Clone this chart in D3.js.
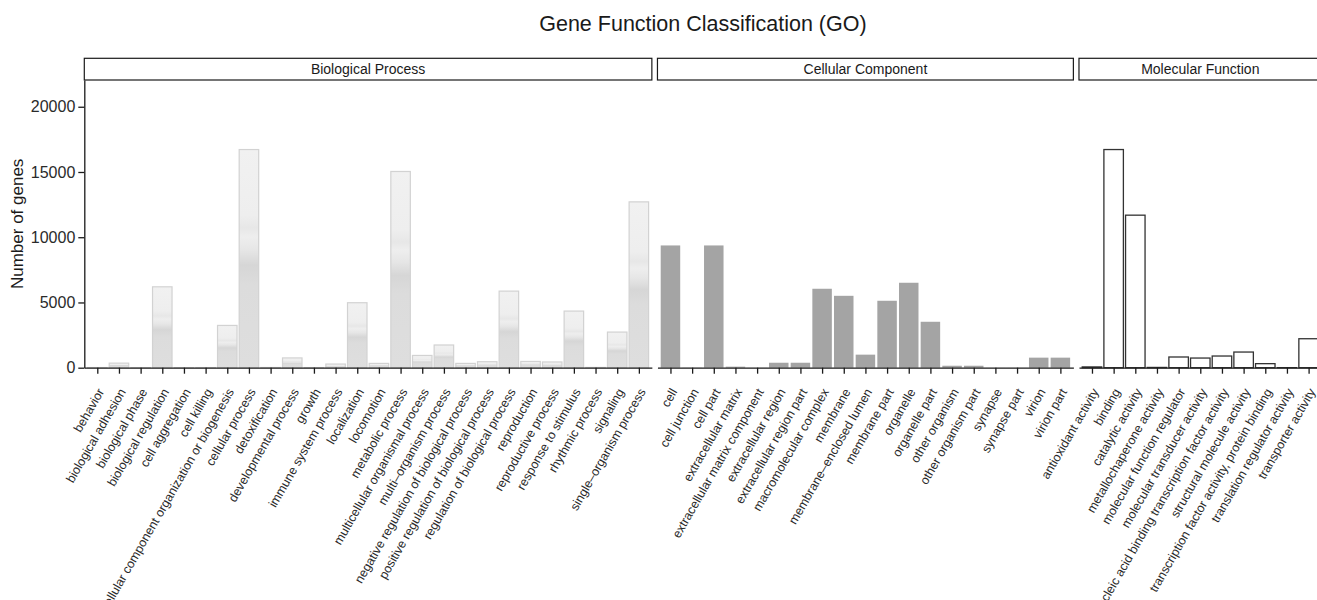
<!DOCTYPE html>
<html>
<head>
<meta charset="utf-8">
<script src="https://cdn.jsdelivr.net/npm/d3@7"></script>
<style>
  html, body { margin: 0; padding: 0; background: #fff; }
  svg { display: block; font-family: "Liberation Sans", Arial, Helvetica, sans-serif; }
</style>
</head>
<body>
<script>
// GO term counts per ontology
const facetNames = ["Biological Process", "Cellular Component", "Molecular Function"];

const bpCategories = [
  "behavior", "biological adhesion", "biological phase", "biological regulation",
  "cell aggregation", "cell killing", "cellular component organization or biogenesis",
  "cellular process", "detoxification", "developmental process", "growth",
  "immune system process", "localization", "locomotion", "metabolic process",
  "multicellular organismal process", "multi\u2013organism process",
  "negative regulation of biological process", "positive regulation of biological process",
  "regulation of biological process", "reproduction", "reproductive process",
  "response to stimulus", "rhythmic process", "signaling", "single\u2013organism process"
];
const bpValues = [
  12, 350, 8, 6200, 4, 10, 3240, 16720, 15, 750, 10,
  280, 4980, 330, 15040, 940, 1740,
  330, 460, 5870, 480, 440, 4340, 20, 2730, 12710
];

const ccCategories = [
  "cell", "cell junction", "cell part", "extracellular matrix",
  "extracellular matrix component", "extracellular region", "extracellular region part",
  "macromolecular complex", "membrane", "membrane\u2013enclosed lumen", "membrane part",
  "organelle", "organelle part", "other organism", "other organism part",
  "synapse", "synapse part", "virion", "virion part"
];
const ccValues = [
  9370, 12, 9370, 80, 6, 380, 380, 6050, 5510, 1000, 5130,
  6510, 3520, 150, 150, 4, 4, 770, 770
];

const mfCategories = [
  "antioxidant activity", "binding", "catalytic activity", "metallochaperone activity",
  "molecular function regulator", "molecular transducer activity",
  "nucleic acid binding transcription factor activity", "structural molecule activity",
  "transcription factor activity, protein binding", "translation regulator activity",
  "transporter activity"
];
const mfValues = [60, 16720, 11690, 20, 820, 740, 895, 1200, 310, 4, 2220];

const yTicks = [0, 5000, 10000, 15000, 20000];
const yMax = 22050;

const W = 1317, H = 600;
const plotLeft = 84.3, plotRight = 1321.6, gap = 5.6;
const panelTop = 80, panelBottom = 367.7, stripTop = 58.3;
const textColor = "#1a1a1a";

const svg = d3.select("body").append("svg")
  .attr("width", W).attr("height", H)
  .attr("viewBox", `0 0 ${W} ${H}`);

// shaded fill used by the first facet
const defs = svg.append("defs");
const grad = defs.append("linearGradient")
  .attr("id", "bpShade").attr("x1", 0).attr("y1", 0).attr("x2", 0).attr("y2", 1);
[[0, "#f1f1f1"], [0.3, "#eeeeee"], [0.36, "#e7e7e7"], [0.4, "#eeeeee"],
 [0.46, "#e6e6e6"], [0.53, "#d6d6d6"], [0.62, "#dcdcdc"], [1, "#dedede"]]
  .forEach(([o, c]) => grad.append("stop").attr("offset", o).attr("stop-color", c));

const panels = [
  { name: facetNames[0], cats: bpCategories, vals: bpValues,
    fill: "url(#bpShade)", stroke: "#d2d2d2", sw: 1.2 },
  { name: facetNames[1], cats: ccCategories, vals: ccValues,
    fill: "#a4a4a4", stroke: "none", sw: 0 },
  { name: facetNames[2], cats: mfCategories, vals: mfValues,
    fill: "#ffffff", stroke: "#333333", sw: 1.3 }
];

const pad = 0.6;
const units = panels.map(p => p.cats.length - 1 + 2 * pad);
const step = (plotRight - plotLeft - gap * (panels.length - 1)) / d3.sum(units);

const y = d3.scaleLinear().domain([0, yMax]).range([panelBottom, panelTop]);

// title
svg.append("text")
  .attr("x", (plotLeft + plotRight) / 2).attr("y", 31)
  .attr("text-anchor", "middle")
  .attr("font-size", 21.5).attr("fill", textColor)
  .text("Gene Function Classification (GO)");

// y axis title
svg.append("text")
  .attr("transform", `translate(23,${(panelTop + panelBottom) / 2}) rotate(-90)`)
  .attr("text-anchor", "middle")
  .attr("font-size", 17).attr("fill", textColor)
  .text("Number of genes");

let x0 = plotLeft;
panels.forEach((p, i) => {
  const x1 = x0 + units[i] * step;
  const x = d3.scalePoint().domain(p.cats).range([x0, x1]).padding(pad);
  const bw = 0.9 * step;
  const g = svg.append("g");

  // strip
  g.append("rect")
    .attr("x", x0).attr("y", stripTop)
    .attr("width", x1 - x0).attr("height", panelTop - stripTop)
    .attr("fill", "#fff").attr("stroke", "#1a1a1a").attr("stroke-width", 1.2);
  g.append("text")
    .attr("x", (x0 + x1) / 2).attr("y", stripTop + (panelTop - stripTop) / 2 + 5)
    .attr("text-anchor", "middle")
    .attr("font-size", 14).attr("fill", textColor)
    .text(p.name);

  // bars
  g.append("g").selectAll("rect")
    .data(p.cats.map((c, k) => ({ c, v: p.vals[k] })))
    .join("rect")
    .attr("x", d => x(d.c) - bw / 2)
    .attr("width", bw)
    .attr("y", d => y(d.v))
    .attr("height", d => y(0) - y(d.v))
    .attr("fill", p.fill)
    .attr("stroke", p.stroke)
    .attr("stroke-width", p.sw);

  // x axis
  const ax = g.append("g")
    .attr("transform", `translate(0,${panelBottom})`)
    .call(d3.axisBottom(x).tickSize(6).tickSizeOuter(0));
  ax.select(".domain").attr("stroke", "#1a1a1a").attr("stroke-width", 1.3);
  ax.selectAll(".tick line").attr("stroke", "#1a1a1a").attr("stroke-width", 1.3);
  ax.selectAll(".tick text")
    .attr("x", 0).attr("y", 0).attr("dy", "0.71em")
    .attr("transform", "translate(-1,19.5) rotate(-60)")
    .attr("text-anchor", "end")
    .attr("font-size", 12.5)
    .attr("font-family", "'Liberation Sans', Arial, Helvetica, sans-serif")
    .attr("fill", "#2a2a2a");

  // y axis on the first facet only
  if (i === 0) {
    const ay = g.append("g")
      .attr("transform", `translate(${x0},0)`)
      .call(d3.axisLeft(y).tickValues(yTicks).tickFormat(d3.format("d"))
        .tickSize(6).tickPadding(3).tickSizeOuter(0));
    ay.select(".domain").attr("stroke", "#1a1a1a").attr("stroke-width", 1.3);
    ay.selectAll(".tick line").attr("stroke", "#1a1a1a").attr("stroke-width", 1.3);
    ay.selectAll(".tick text")
      .attr("font-size", 16)
      .attr("font-family", "'Liberation Sans', Arial, Helvetica, sans-serif")
      .attr("fill", "#2a2a2a");
  }

  x0 = x1 + gap;
});
</script>
</body>
</html>
